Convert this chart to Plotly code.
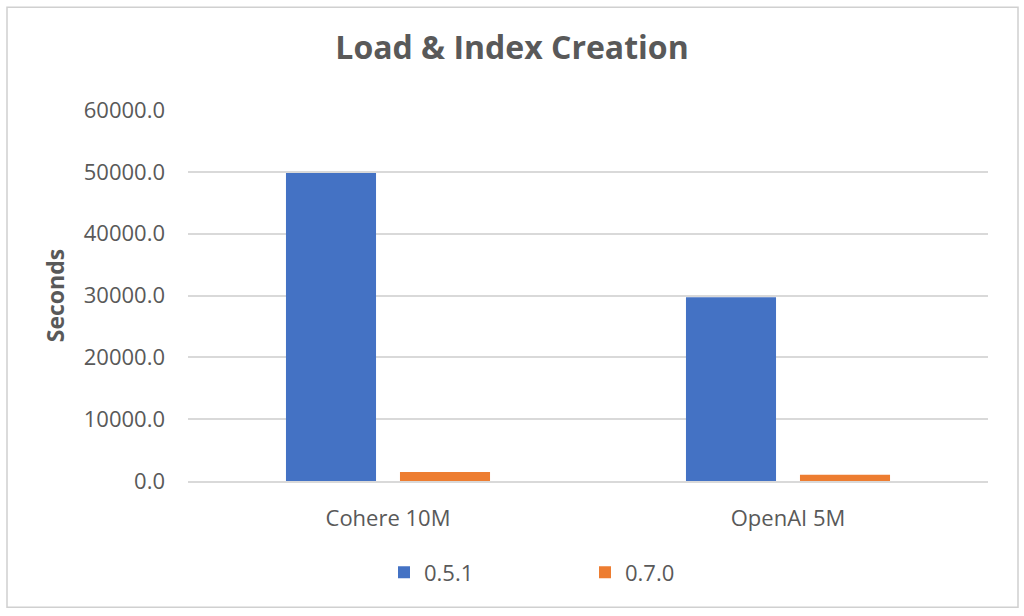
import plotly.graph_objects as go

categories = ["Cohere 10M", "OpenAI 5M"]
series_names = ["0.5.1", "0.7.0"]
v_051 = [49800, 29700]
v_070 = [1450, 1000]
colors = ["#4472C4", "#ED7D31"]
y_ticks = [0, 10000, 20000, 30000, 40000, 50000, 60000]

font_family = "'Open Sans', 'Noto Sans', sans-serif"
grey = "#595959"

W, H = 1024, 616
PL, PR, PT, PB = 188, 36, 110, 134.5
pw = W - PL - PR
ph = H - PT - PB

fig = go.Figure()
for name, vals, col in zip(series_names, [v_051, v_070], colors):
    fig.add_trace(go.Bar(x=categories, y=vals, name=name, marker_color=col,
                         marker_line_width=0))

fig.update_layout(
    width=W, height=H,
    paper_bgcolor="white", plot_bgcolor="white",
    margin=dict(l=PL, r=PR, t=PT, b=PB, autoexpand=False),
    barmode="group", bargap=0.43, bargroupgap=0.21,
    font=dict(family=font_family, color=grey, size=22),
    title=dict(text="<b>Load & Index Creation</b>", x=0.5, xanchor="center",
               y=1 - 48 / H, yanchor="middle", font=dict(size=32, color=grey)),
    legend=dict(orientation="h", x=(384 - PL) / pw, xanchor="left",
                y=(481.5 - 573) / ph, yanchor="middle",
                font=dict(size=22, color=grey), itemwidth=30,
                entrywidth=156, entrywidthmode="pixels"),
    shapes=[dict(type="rect", xref="paper", yref="paper",
                 x0=(7 - PL) / pw, x1=(1018 - PL) / pw,
                 y0=(481.5 - 608) / ph, y1=(481.5 - 7) / ph,
                 line=dict(color="#D0D0D0", width=1.5))],
)
fig.update_yaxes(range=[0, 60000], tickvals=y_ticks,
                 ticktext=[f"{v:.1f}" for v in y_ticks],
                 gridcolor="#D9D9D9", gridwidth=1.5, zeroline=False,
                 ticks="", ticklabelstandoff=22,
                 title=dict(text="<b>Seconds</b>", font=dict(size=23, color=grey), standoff=12),
                 tickfont=dict(size=22, color=grey))
fig.update_xaxes(showline=True, linecolor="#D9D9D9", linewidth=1.5,
                 tickfont=dict(size=22, color=grey), ticks="", ticklabelstandoff=17)

fig.write_html("out.html", config={"displayModeBar": False},
               post_script="document.body.style.margin='0px';")
